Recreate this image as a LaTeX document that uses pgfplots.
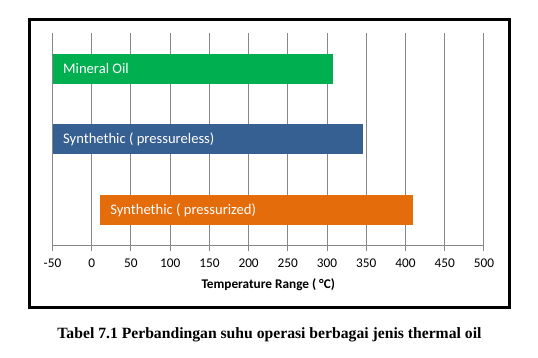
\documentclass[border=0pt]{standalone}
\usepackage{fontspec}
\setmainfont{Carlito}
\newfontfamily\capfont{Liberation Serif}
\usepackage{pgfplots}
\pgfplotsset{compat=1.18}
\definecolor{ggreen}{HTML}{00B050}
\definecolor{gblue}{HTML}{376092}
\definecolor{gorange}{HTML}{E46C0A}
\definecolor{ggrid}{HTML}{878787}
\begin{document}
\begin{tikzpicture}
\path[use as bounding box] (0,0) rectangle (403.5bp,268.5bp);
\draw[line width=2.25bp] (22.125bp,37.875bp) rectangle (381.9bp,253.875bp);
\begin{axis}[
  at={(39.375bp,84bp)}, anchor=south west,
  scale only axis, width=323.6bp, height=159.75bp,
  xbar stacked, stack negative=on previous, bar width=22.5bp,
  xmin=-50, xmax=500, ymin=0.5, ymax=3.5,
  xtick={-50,0,...,500}, ytick=\empty,
  axis x line*=bottom, axis y line=none,
  axis line style={ggrid, line width=0.75bp},
  xtick style={ggrid, line width=0.75bp},
  tick align=outside, major tick length=4bp,
  xmajorgrids, grid style={ggrid, line width=0.75bp},
  /pgf/number format/assume math mode=true,
  xticklabel style={font=\fontsize{10}{12}\selectfont, yshift=-2.5bp},
  xlabel={\bfseries Temperature Range ( °C)},
  xlabel style={font=\fontsize{10}{12}\selectfont, yshift=-1bp},
]
\addplot[draw=none, fill=none] coordinates {(-50,3) (-50,2) (10,1)};
\addplot[draw=none, fill=ggreen] coordinates {(357.5,3) (0,2) (0,1)};
\addplot[draw=none, fill=gblue] coordinates {(0,3) (395.5,2) (0,1)};
\addplot[draw=none, fill=gorange] coordinates {(0,3) (0,2) (400,1)};
\coordinate (l1) at (axis cs:-50,3);
\coordinate (l2) at (axis cs:-50,2);
\coordinate (l3) at (axis cs:10,1);
\end{axis}
\node[anchor=west, text=white, font=\fontsize{11}{13}\selectfont, xshift=4.5bp] at (l1) {Mineral Oil};
\node[anchor=west, text=white, font=\fontsize{11}{13}\selectfont, xshift=4.5bp] at (l2) {Synthethic ( pressureless)};
\node[anchor=west, text=white, font=\fontsize{11}{13}\selectfont, xshift=4.5bp] at (l3) {Synthethic ( pressurized)};
\node[font=\capfont\bfseries\fontsize{11.8}{14}\selectfont] at (202.1bp,17.25bp) {Tabel 7.1 Perbandingan suhu operasi berbagai jenis thermal oil};
\end{tikzpicture}
\end{document}
